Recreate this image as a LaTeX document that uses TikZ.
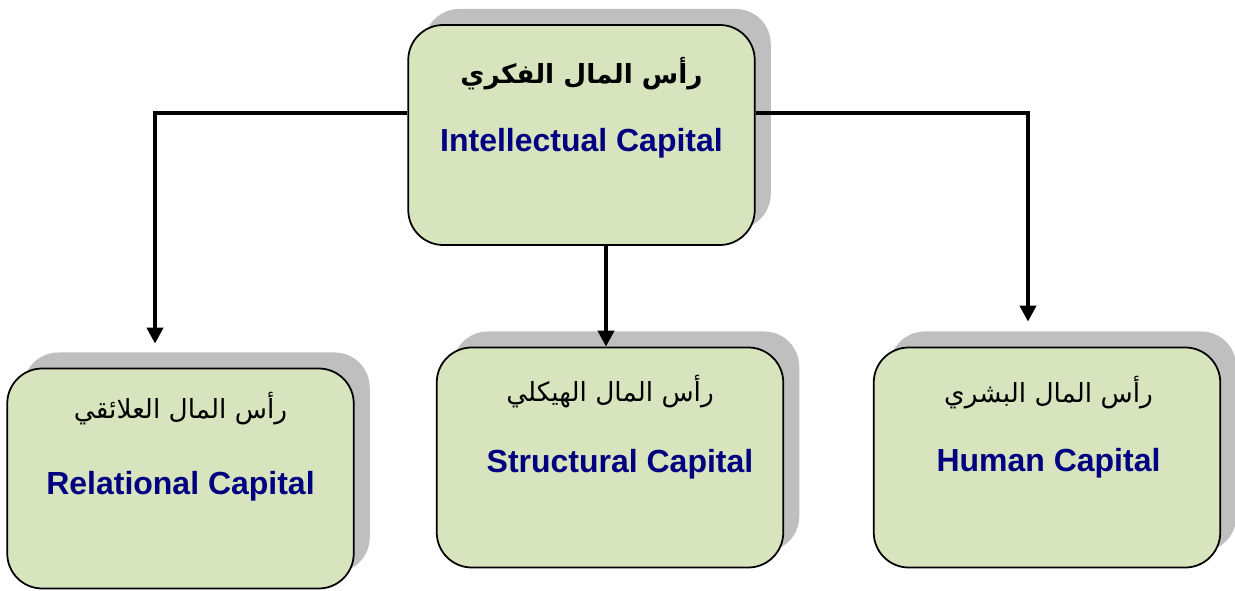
\documentclass[tikz,border=0pt]{standalone}
\usepackage{fontspec}
\setmainfont{Liberation Sans}
\newfontfamily\arabicfont[Script=Arabic]{DejaVu Sans}
\TeXXeTstate=1
\definecolor{capfill}{RGB}{215,228,189}
\definecolor{capshadow}{RGB}{191,191,191}
\definecolor{capnavy}{RGB}{0,0,128}
\usetikzlibrary{arrows.meta,positioning,shadows}
\tikzset{
  capbox/.style={draw=black, line width=1pt, fill=capfill, rounded corners=0.7cm,
    minimum width=6.93cm, minimum height=4.4cm,
    drop shadow={shadow xshift=0.32cm, shadow yshift=0.32cm, fill=capshadow, opacity=1}},
  arlabel/.style={font=\arabicfont\fontsize{15}{18}\selectfont, text=black},
  enlabel/.style={font=\bfseries\fontsize{18.2}{22}\selectfont, text=capnavy},
  capline/.style={line width=2.2pt, -{Triangle[width=0.32cm,length=0.32cm]}}
}

\begin{document}
\begin{tikzpicture}
  \useasboundingbox (0,0) rectangle (24.7,11.8);

  % Top box: intellectual capital
  \node[capbox] (top) at (11.63,9.10) {};
  \node[arlabel, font=\arabicfont\bfseries\fontsize{15}{18}\selectfont] (topAr) at ([yshift=-1.0cm]top.north) {\beginR رأس المال الفكري\endR};
  \node[enlabel] (topEn) at ([yshift=-2.38cm]top.north) {Intellectual Capital};

  % Bottom boxes
  \node[capbox] (rel) at (3.61,2.23) {};
  \node[arlabel] (relAr) at ([yshift=-0.82cm]rel.north) {\beginR رأس المال العلائقي\endR};
  \node[enlabel] (relEn) at ([yshift=-2.37cm]rel.north) {Relational Capital};

  \node[capbox] (struct) at (12.20,2.65) {};
  \node[arlabel] (structAr) at ([yshift=-0.9cm]struct.north) {\beginR رأس المال الهيكلي\endR};
  \node[enlabel] (structEn) at ([xshift=0.2cm,yshift=-2.35cm]struct.north) {Structural Capital};

  \node[capbox] (hum) at (20.94,2.65) {};
  \node[arlabel] (humAr) at ([xshift=0.03cm,yshift=-0.92cm]hum.north) {\beginR رأس المال البشري\endR};
  \node[enlabel] (humEn) at ([xshift=0.03cm,yshift=-2.34cm]hum.north) {Human Capital};

  % Connectors
  \draw[capline] ([yshift=0.44cm]top.west) -| ([xshift=-0.51cm,yshift=0.48cm]rel.north);
  \draw[capline] ([xshift=0.49cm]top.south) -- ([xshift=-0.08cm]struct.north);
  \draw[capline] ([yshift=0.44cm]top.east) -| ([xshift=-0.38cm,yshift=0.5cm]hum.north);
\end{tikzpicture}
\end{document}
